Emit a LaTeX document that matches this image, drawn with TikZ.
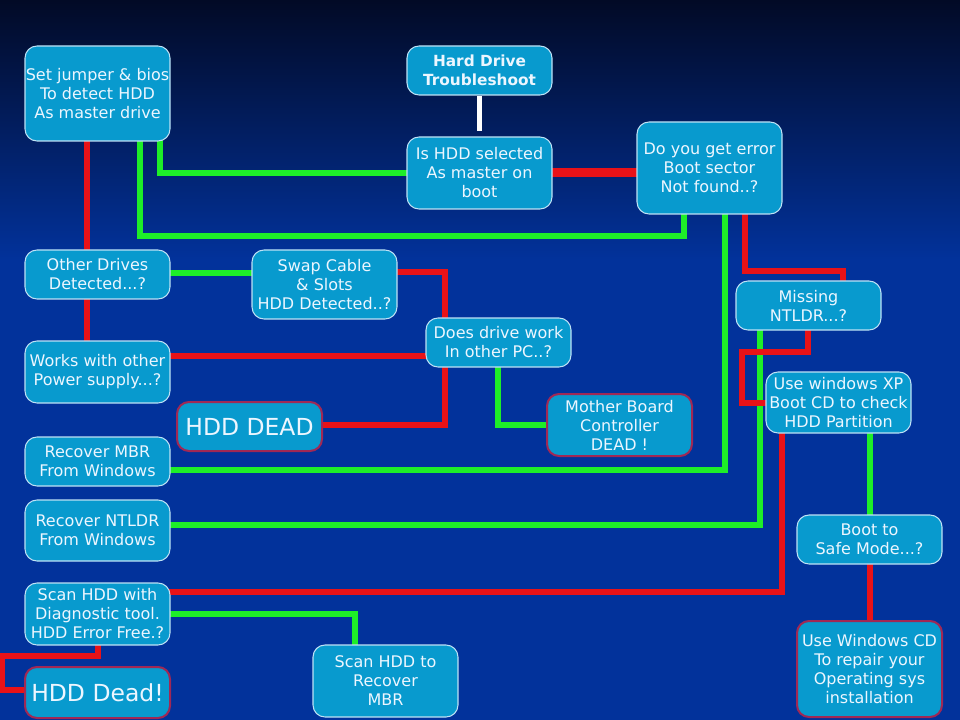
\documentclass[tikz,border=0pt]{standalone}
\usepackage{fontspec}
\setmainfont{DejaVu Sans}
\usetikzlibrary{calc}
\pgfdeclarelayer{bg}\pgfdeclarelayer{wires}
\pgfsetlayers{bg,wires,main}
\definecolor{bgtop}{RGB}{2,10,38}
\definecolor{bgmid}{RGB}{6,36,122}
\definecolor{bgbase}{RGB}{2,50,155}
\definecolor{boxfill}{RGB}{8,154,206}
\definecolor{boxline}{RGB}{190,225,245}
\definecolor{deadline}{RGB}{160,40,85}
\definecolor{wred}{RGB}{232,18,24}
\definecolor{wgreen}{RGB}{30,238,40}
\definecolor{txt}{RGB}{236,246,255}
\begin{document}
\begin{tikzpicture}[x=0.75pt,y=-0.75pt,
  box/.style={draw=boxline, line width=0.8pt, fill=boxfill, rounded corners=9pt,
    text=txt, align=center, inner sep=0pt, minimum width=108.75pt,
    font=\fontsize{12}{14.25}\selectfont},
  deadbox/.style={box, draw=deadline, line width=1.5pt},
  bigtext/.style={font=\fontsize{17.6}{20}\selectfont},
  wire/.style={line width=4.5pt, line cap=rect, line join=miter},
  rwire/.style={wire, draw=wred},
  gwire/.style={wire, draw=wgreen},
  wwire/.style={line width=3.8pt, draw=white}]
\useasboundingbox (0,0) rectangle (960,720);
\begin{pgfonlayer}{bg}
\fill[bgbase] (0,0) rectangle (960,720);
\shade[top color=bgtop, middle color=bgmid, bottom color=bgbase] (0,0) rectangle (960,260);
\end{pgfonlayer}

\node[box, minimum height=71.25pt] (set) at (97.5,93.5) {Set jumper \& bios\\To detect HDD\\As master drive};
\node[box, minimum height=36.75pt, font=\fontsize{11.5}{14.25}\selectfont\bfseries] (title) at (479.5,70.5) {Hard Drive\\Troubleshoot};
\node[box, minimum height=54pt] (ishdd) at (479.5,173) {Is HDD selected\\As master on\\boot};
\node[box, minimum height=69pt] (doerr) at (709.5,168) {Do you get error\\Boot sector\\Not found..?};
\node[box, minimum height=36.75pt] (other) at (97.5,274.5) {Other Drives\\Detected...?};
\node[box, minimum height=51.75pt] (swap) at (324.5,284.5) {Swap Cable\\\& Slots\\HDD Detected..?};
\node[box, minimum height=36.75pt] (pc) at (498.5,342.5) {Does drive work\\In other PC..?};
\node[box, minimum height=36.75pt] (ntldr) at (808.5,305.5) {Missing\\NTLDR...?};
\node[box, minimum height=46.5pt] (power) at (97.5,372) {Works with other\\Power supply...?};
\node[deadbox, minimum height=36.75pt, bigtext] (dead1) at (249.5,426.5) {HDD DEAD};
\node[deadbox, minimum height=46.5pt] (mobo) at (619.5,425) {Mother Board\\Controller\\DEAD !};
\node[box, minimum height=45.75pt] (xp) at (838.5,402.5) {Use windows XP\\Boot CD to check\\HDD Partition};
\node[box, minimum height=36.75pt] (mbr) at (97.5,461.5) {Recover MBR\\From Windows};
\node[box, minimum height=45.75pt] (rntldr) at (97.5,530.5) {Recover NTLDR\\From Windows};
\node[box, minimum height=36.75pt] (safe) at (869.5,539.5) {Boot to\\Safe Mode...?};
\node[box, minimum height=46.5pt] (scan) at (97.5,614) {Scan HDD with\\Diagnostic tool.\\HDD Error Free.?};
\node[deadbox, minimum height=38.25pt, bigtext] (dead2) at (97.5,692.5) {HDD Dead!};
\node[box, minimum height=54pt] (scanmbr) at (385.5,681) {Scan HDD to\\Recover\\MBR};
\node[deadbox, minimum height=72pt] (wincd) at (869.5,669) {Use Windows CD\\To repair your\\Operating sys\\installation};

\begin{pgfonlayer}{wires}
\draw[wwire, shorten >=4pt] (title.south) -- (ishdd.north);
\draw[rwire, line width=6.75pt] (ishdd.east) -- (ishdd.east -| doerr.west);
\draw[gwire] (ishdd.west) -| (set.south -| 160,0);
\draw[gwire] (doerr.south -| 684,0) |- (140,236) -- (set.south -| 140,0);
\draw[rwire] (set.south -| 87,0) -- (other.north -| 87,0);
\draw[rwire] (other.south -| 87,0) -- (power.north -| 87,0);
\draw[gwire] (other.east |- 0,273) -- (swap.west |- 0,273);
\draw[rwire] (swap.east |- 0,272) -| (pc.north -| 445,0);
\draw[rwire] (pc.south -| 445,0) |- (dead1.east |- 0,425);
\draw[rwire] (power.east |- 0,356) -- (pc.west |- 0,356);
\draw[gwire] (pc.south -| 498,0) |- (mobo.west);
\draw[gwire] (mbr.east |- 0,470) -| (doerr.south -| 725,0);
\draw[rwire] (doerr.south -| 745,0) |- (843,271) -- (ntldr.north -| 843,0);
\draw[gwire] (ntldr.south -| 760,0) |- (rntldr.east |- 0,525);
\draw[rwire] (ntldr.south -| 808,0) |- (742,352) |- (xp.west |- 0,403);
\draw[rwire] (xp.south -| 782,0) |- (scan.east |- 0,592);
\draw[gwire] (xp.south -| safe.north) -- (safe.north);
\draw[rwire] (safe.south) -- (wincd.north);
\draw[gwire] (scan.east |- 0,614) -| (scanmbr.north -| 355,0);
\draw[rwire] (scan.south -| 98,0) |- (2,656) |- (dead2.west |- 0,690);
\end{pgfonlayer}
\end{tikzpicture}
\end{document}
